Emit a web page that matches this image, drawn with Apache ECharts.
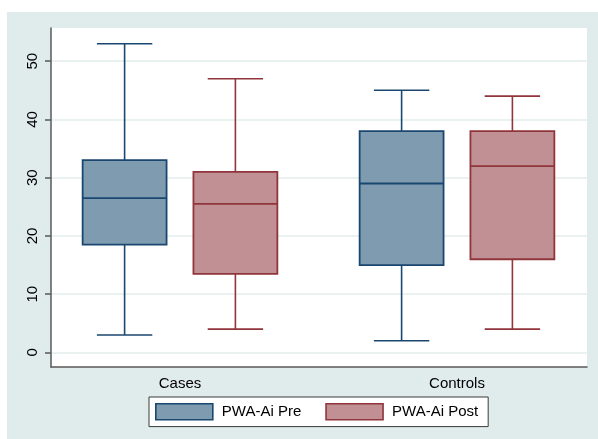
<!DOCTYPE html>
<html>
<head>
<meta charset="utf-8">
<title>PWA-Ai Pre / Post</title>
<script src="https://cdn.jsdelivr.net/npm/echarts@6/dist/echarts.min.js"></script>
<style>
  html, body { margin: 0; padding: 0; background: #ffffff; }
  #wrap { position: relative; width: 598px; height: 439px; overflow: hidden; }
  #region { position: absolute; left: 7px; top: 12px; right: 0; bottom: 0; background: #e0ebeb; }
  #chart { position: absolute; left: 0; top: 0; width: 598px; height: 439px; }
</style>
</head>
<body>
<div id="wrap">
  <div id="region"></div>
  <div id="chart"></div>
</div>
<script>
// Groups on the horizontal axis
const categories = ['Cases', 'Controls'];
// Box statistics per group: [group index, lower whisker, Q1, median, Q3, upper whisker]
const preStats = [
  [0, 3, 18.5, 26.5, 33, 53],
  [1, 2, 15, 29, 38, 45]
];
const postStats = [
  [0, 4, 13.5, 25.5, 31, 47],
  [1, 4, 16, 32, 38, 44]
];
// Tick labels on the value axis
const yTicks = [0, 10, 20, 30, 40, 50];
const seriesNames = ['PWA-Ai Pre', 'PWA-Ai Post'];

const FONT = '"Liberation Sans", Arial, Helvetica, sans-serif';
const palette = {
  'PWA-Ai Pre':  { fill: '#7f9bb0', line: '#1a476f' },
  'PWA-Ai Post': { fill: '#c09094', line: '#90353b' }
};

// Draws one box-and-whisker per data row, shifted within the band by `shift`
function makeRenderer(shift, colors) {
  return function (params, api) {
    const cat = api.value(0);
    const band = api.size([1, 0])[0];
    const cx = api.coord([cat, 0])[0] + shift * band;
    const half = band * 0.1515;
    const capHalf = band * 0.1;
    const y = function (v) { return api.coord([cat, v])[1]; };
    const lo = y(api.value(1)), q1 = y(api.value(2)), md = y(api.value(3)),
          q3 = y(api.value(4)), hi = y(api.value(5));
    const lineStyle = { stroke: colors.line, lineWidth: 1.6, fill: null };
    return {
      type: 'group',
      children: [
        { type: 'line', shape: { x1: cx, y1: hi, x2: cx, y2: q3 }, style: lineStyle },
        { type: 'line', shape: { x1: cx, y1: q1, x2: cx, y2: lo }, style: lineStyle },
        { type: 'line', shape: { x1: cx - capHalf, y1: hi, x2: cx + capHalf, y2: hi }, style: lineStyle },
        { type: 'line', shape: { x1: cx - capHalf, y1: lo, x2: cx + capHalf, y2: lo }, style: lineStyle },
        { type: 'rect', shape: { x: cx - half, y: q3, width: half * 2, height: q1 - q3 },
          style: { fill: colors.fill, stroke: colors.line, lineWidth: 1.8 } },
        { type: 'line', shape: { x1: cx - half, y1: md, x2: cx + half, y2: md },
          style: { stroke: colors.line, lineWidth: 1.8 } }
      ]
    };
  };
}

const yRange = { min: -2.5, max: 55.7 };

const chart = echarts.init(document.getElementById('chart'), null, { renderer: 'canvas' });
chart.setOption({
  backgroundColor: 'transparent',
  animation: false,
  textStyle: { fontFamily: FONT },
  grid: [
    { left: 51, right: 11, top: 28, bottom: 72, show: true, backgroundColor: '#ffffff', borderWidth: 0 },
    { left: 41.5, right: 2.5, top: 28, bottom: 72 }
  ],
  xAxis: [
    {
      gridIndex: 0, type: 'category', data: categories,
      axisLine: { show: true, onZero: false, lineStyle: { color: '#5a5a5a', width: 1.5 } },
      axisTick: { show: false }, axisLabel: { show: false }, splitLine: { show: false }
    },
    {
      gridIndex: 1, type: 'category', data: categories,
      axisLine: { show: false, onZero: false }, axisTick: { show: false },
      axisLabel: { show: true, color: '#000000', fontSize: 15, fontFamily: FONT, margin: 9 },
      splitLine: { show: false }
    }
  ],
  yAxis: [
    {
      gridIndex: 0, type: 'value', min: yRange.min, max: yRange.max,
      axisLine: { show: true, onZero: false, lineStyle: { color: '#5a5a5a', width: 1.5 } },
      axisTick: { show: true, length: 6, customValues: yTicks, lineStyle: { color: '#5a5a5a', width: 1.5 } },
      axisLabel: { show: true, customValues: yTicks, rotate: 90, color: '#000000', fontSize: 15,
                   fontFamily: FONT, margin: 11 },
      splitLine: { show: true, lineStyle: { color: '#e2ecec', width: 1.5 } }
    },
    {
      gridIndex: 1, type: 'value', min: yRange.min, max: yRange.max, show: false,
      splitLine: { show: false }
    }
  ],
  legend: {
    left: 149, top: 397,
    orient: 'horizontal',
    padding: [6, 10, 6, 6],
    backgroundColor: '#ffffff',
    borderColor: '#3a3a3a', borderWidth: 1,
    itemWidth: 57, itemHeight: 16, itemGap: 24,
    icon: 'rect',
    textStyle: { color: '#000000', fontSize: 15, fontFamily: FONT, padding: [0, 0, 0, 4] },
    data: seriesNames.map(function (n) {
      return { name: n, icon: 'rect',
               itemStyle: { color: palette[n].fill, borderColor: palette[n].line, borderWidth: 1.6 } };
    })
  },
  series: [
    {
      name: seriesNames[0], type: 'custom', xAxisIndex: 1, yAxisIndex: 1,
      data: preStats, encode: { x: 0, y: [1, 2, 3, 4, 5] },
      itemStyle: { color: palette[seriesNames[0]].fill },
      renderItem: makeRenderer(-0.2, palette[seriesNames[0]])
    },
    {
      name: seriesNames[1], type: 'custom', xAxisIndex: 1, yAxisIndex: 1,
      data: postStats, encode: { x: 0, y: [1, 2, 3, 4, 5] },
      itemStyle: { color: palette[seriesNames[1]].fill },
      renderItem: makeRenderer(0.2, palette[seriesNames[1]])
    }
  ]
});
</script>
</body>
</html>
